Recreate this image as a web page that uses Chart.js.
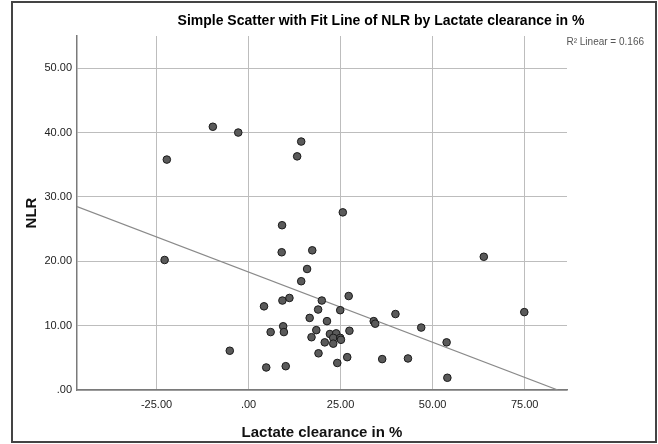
<!DOCTYPE html>
<html>
<head>
<meta charset="utf-8">
<script src="https://cdn.jsdelivr.net/npm/chart.js@4/dist/chart.umd.min.js"></script>
<style>
  html, body { margin: 0; padding: 0; background: #fff; }
  #wrap { width: 658px; height: 444px; }
</style>
</head>
<body>
<div id="wrap"><canvas id="grafico_dispersao"></canvas></div>
<script>
// -----------------------Dados--------------------------------------------//

var lactateClearance = [-22.2, -22.8, -9.7, -2.8, 14.3, 13.2, 25.6, 9.1, 9.0, 17.3,
  15.9, 14.3, 27.2, 9.2, 11.1, 19.9, 4.2, 18.9, 24.9, 16.6,
  21.3, 34.0, 34.4, 9.4, 6.0, 9.6, 18.4, 27.4, 17.1, 22.1,
  23.8, 23.0, 24.9, 25.1, 20.7, 23.0, -5.1, 19.0, 26.8, 36.3,
  4.8, 10.1, 24.1, 63.9, 74.9, 39.9, 46.9, 53.8, 43.3, 54.0];

var nlr = [35.8, 20.2, 40.9, 40.0, 38.6, 36.3, 27.6, 25.6, 21.4, 21.7,
  18.8, 16.9, 14.6, 13.9, 14.3, 13.9, 13.0, 12.5, 12.4, 11.2,
  10.7, 10.7, 10.3, 9.9, 9.0, 9.0, 9.3, 9.2, 8.2, 8.7,
  8.8, 8.1, 8.1, 7.8, 7.4, 7.2, 6.1, 5.7, 5.1, 4.8,
  3.5, 3.7, 4.2, 20.7, 12.1, 11.8, 9.7, 7.4, 4.9, 1.9];

// fit line ends
var fitX = [-46.6, 84.0];
var fitY = [28.5, 0];

var xTicks = [-25, 0, 25, 50, 75];
var yTicks = [0, 10, 20, 30, 40, 50];

var titulo = 'Simple Scatter with Fit Line of NLR by Lactate clearance in %';
var r2Texto = 'R\u00B2 Linear = 0.166';

// -----------------------Gráfico--------------------------------------------//

var pontos = lactateClearance.map(function (x, i) { return { x: x, y: nlr[i] }; });
var linha = fitX.map(function (x, i) { return { x: x, y: fitY[i] }; });

function fmt(v) {
  var s = Number(v).toFixed(2);
  if (s === '0.00') return '.00';
  return s;
}

var fonte = '"Liberation Sans", Arial, sans-serif';

var moldura = {
  id: 'moldura',
  afterDraw: function (chart) {
    var ctx = chart.ctx;
    ctx.save();
    ctx.strokeStyle = '#444';
    ctx.lineWidth = 2;
    ctx.strokeRect(12, 2, 644, 440);

    ctx.fillStyle = '#000';
    ctx.font = 'bold 14px ' + fonte;
    ctx.textAlign = 'center';
    ctx.textBaseline = 'middle';
    ctx.fillText(titulo, 381, 21);

    ctx.fillStyle = '#555';
    ctx.font = '10px ' + fonte;
    ctx.textAlign = 'right';
    ctx.fillText(r2Texto, 644, 42);
    ctx.restore();
  }
};

var ctx = document.getElementById('grafico_dispersao').getContext('2d');
var grafico = new Chart(ctx, {
  type: 'scatter',
  data: {
    datasets: [
      {
        label: 'NLR',
        data: pontos,
        backgroundColor: '#5a5a5a',
        borderColor: '#1a1a1a',
        borderWidth: 1,
        pointRadius: 3.8,
        order: 1
      },
      {
        type: 'line',
        label: 'Fit',
        data: linha,
        borderColor: '#8a8a8a',
        borderWidth: 1.2,
        pointRadius: 0,
        fill: false,
        order: 2
      }
    ]
  },
  options: {
    responsive: true,
    maintainAspectRatio: false,
    animation: false,
    layout: { padding: { left: 0, right: 91, top: 36, bottom: 0 } },
    plugins: {
      legend: { display: false },
      tooltip: { enabled: false }
    },
    scales: {
      x: {
        type: 'linear',
        min: -46.6,
        max: 86.5,
        afterBuildTicks: function (scale) {
          scale.ticks = xTicks.map(function (v) { return { value: v }; });
        },
        afterFit: function (scale) { scale.height = 54; },
        grid: { color: '#bdbdbd', lineWidth: 1, drawTicks: false },
        border: { display: true, color: '#7a7a7a', width: 1.5 },
        ticks: {
          padding: 8,
          color: '#222',
          font: { family: fonte, size: 11 },
          callback: function (v) { return fmt(v); }
        },
        title: {
          display: true,
          text: 'Lactate clearance in %',
          color: '#111',
          font: { family: fonte, size: 15, weight: 'bold', lineHeight: 1.2 },
          padding: { top: 0, bottom: 2 }
        }
      },
      y: {
        type: 'linear',
        min: 0,
        max: 55,
        afterBuildTicks: function (scale) {
          scale.ticks = yTicks.map(function (v) { return { value: v }; });
        },
        afterFit: function (scale) { scale.width = 77; },
        grid: { color: '#bdbdbd', lineWidth: 1, drawTicks: false },
        border: { display: true, color: '#7a7a7a', width: 1.5 },
        ticks: {
          padding: 5,
          color: '#222',
          font: { family: fonte, size: 11 },
          callback: function (v) { return fmt(v); }
        },
        title: {
          display: true,
          text: 'NLR',
          color: '#111',
          font: { family: fonte, size: 15, weight: 'bold', lineHeight: 1.2 },
          padding: { top: 23, bottom: 0 }
        }
      }
    }
  },
  plugins: [moldura]
});
</script>
</body>
</html>
